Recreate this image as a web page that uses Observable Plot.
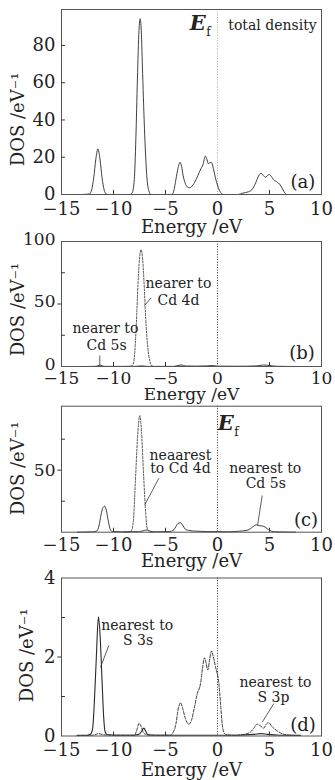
<!DOCTYPE html>
<html><head><meta charset="utf-8">
<script src="https://cdn.jsdelivr.net/npm/d3@7"></script>
<script src="https://cdn.jsdelivr.net/npm/@observablehq/plot@0.6"></script>
<style>
body{margin:0;background:#fff;overflow:hidden}
#chart svg{display:block}
</style>
</head><body><div id="chart"></div>
<script>
// ---------- data (energy eV, DOS) ----------
const xTicks = [-15, -10, -5, 0, 5, 10];

const totalDensity = [[-13,0],[-12.3,0.3],[-12.1,2.5],[-11.9,9],[-11.7,19],[-11.5,24.5],[-11.3,19],[-11.1,9],[-10.9,2.5],[-10.7,0.3],[-10.5,0],
 [-8.4,0],[-8.2,1],[-8.0,8],[-7.85,30],[-7.7,62],[-7.55,88],[-7.44,94.3],[-7.33,88],[-7.2,65],[-7.0,32],[-6.8,10],[-6.6,2],[-6.4,0],
 [-4.4,0],[-4.2,2],[-4.0,8],[-3.8,14],[-3.6,17.3],[-3.45,15],[-3.3,10],[-3.1,6],[-2.9,4],[-2.7,3.6],[-2.5,4.2],[-2.2,6.5],[-1.9,10],[-1.6,13.8],[-1.4,16],[-1.17,20.6],[-1.0,18.5],[-0.88,16.5],[-0.7,17.2],[-0.55,17],[-0.4,14],[-0.2,9],[0,5],[0.2,2],[0.4,0.4],[0.55,0],
 [2.0,0],[2.4,0.7],[3.0,1.5],[3.3,2.5],[3.55,4.8],[3.8,8],[4.0,10.5],[4.2,11.4],[4.4,10.2],[4.62,9.3],[4.8,10.2],[5.0,10.7],[5.2,9.5],[5.45,7.5],[5.66,7],[5.85,6],[6.0,5.5],[6.2,3.5],[6.4,1.5],[6.65,0],[7,0]];

const cd4dNearer = [[-9,0],[-8.3,0.3],[-8.1,2],[-7.95,12],[-7.8,35],[-7.65,65],[-7.5,86],[-7.35,93.4],[-7.2,86],[-7.05,65],[-6.9,38],[-6.7,15],[-6.5,4],[-6.3,0.5],[-6.1,0]];
const cd5sNearer = [[-13.5,0],[-11.8,0.1],[-11.5,0.6],[-11.3,1.2],[-11.1,0.6],[-10.8,0.1],[-8,0.1],[-7.3,0.5],[-6.8,0.1],[-4.2,0.1],[-3.7,1],[-3.4,1.2],[-3.1,0.4],[-2,0.3],[-1,0.5],[-0.5,0.8],[0,0.3],[2,0.2],[3.8,0.5],[4.4,1.2],[5,0.8],[5.6,0.2],[8,0]];

const cd4dNearest = [[-9,0],[-8.6,0.2],[-8.3,1],[-8.1,8],[-7.9,40],[-7.7,75],[-7.47,94],[-7.3,80],[-7.1,45],[-6.9,15],[-6.76,3],[-6.5,0.3],[-6.2,0]];
const cd5sNearest = [[-13.5,0],[-12,0.3],[-11.6,1],[-11.4,5],[-11.2,14],[-11.0,20],[-10.84,21],[-10.7,18],[-10.5,9],[-10.3,2],[-10.1,0.5],[-9,0.3],[-7.5,0.5],[-7.0,1.5],[-6.76,1.8],[-6.5,0.8],[-6,0.3],[-4.6,0.5],[-4.2,2],[-4.0,4.5],[-3.8,7],[-3.56,7.6],[-3.3,5],[-3.1,2.5],[-2.8,1.5],[-2,0.8],[-1,0.5],[0,0.5],[1,0.3],[2,0.8],[2.85,1.5],[3.2,3],[3.5,5],[3.75,6],[4.0,5.3],[4.3,5],[4.6,4],[4.9,2],[5.2,0.8],[5.5,0.3],[6,0.2],[7.5,0]];

const s3sNearest = [[-13.5,0.02],[-12.5,0.02],[-12.2,0.05],[-12.0,0.2],[-11.85,0.8],[-11.65,2.0],[-11.45,3.02],[-11.3,2.6],[-11.1,1.4],[-10.95,0.5],[-10.8,0.1],[-10.6,0.03],[-10,0.02],[-8,0.02],[-7.5,0.05],[-7.3,0.12],[-7.08,0.2],[-6.9,0.12],[-6.7,0.03],[-6,0.02],[-4,0.02],[-2,0.02],[0,0.02],[2,0.02],[3.5,0.04],[4.2,0.06],[4.8,0.04],[6,0.02],[8,0.02]];
const s3pNearest = [[-13.5,0.01],[-12,0.02],[-11.4,0.06],[-11,0.03],[-8,0.02],[-7.9,0.05],[-7.7,0.2],[-7.55,0.32],[-7.35,0.25],[-7.15,0.1],[-6.9,0.04],[-6.5,0.02],[-4.5,0.02],[-4.3,0.08],[-4.0,0.3],[-3.8,0.65],[-3.56,0.84],[-3.35,0.7],[-3.1,0.45],[-2.76,0.3],[-2.5,0.4],[-2.2,0.75],[-1.95,1.07],[-1.63,1.33],[-1.45,1.7],[-1.25,1.98],[-1.1,1.85],[-0.93,1.67],[-0.75,1.95],[-0.58,2.15],[-0.4,2.0],[-0.19,1.75],[0.13,1.33],[0.3,0.8],[0.45,0.3],[0.6,0.1],[0.77,0.04],[1.5,0.02],[2.5,0.04],[3.17,0.1],[3.5,0.2],[3.8,0.3],[4.1,0.26],[4.45,0.2],[4.7,0.3],[4.93,0.34],[5.2,0.25],[5.74,0.13],[6.2,0.06],[6.7,0.03],[8,0.01]];

// annotation texts [x, y, text]
const notesA = [[5.29, 90.5, "total density"]];
const notesB = [[-3.75, 66.4, "nearer to"], [-3.75, 52.8, "Cd 4d"], [-10.77, 30.1, "nearer to"], [-10.67, 16.8, "Cd 5s"]];
const notesC = [[-3.56, 61.9, "neaarest"], [-3.56, 51.1, "to Cd 4d"], [4.59, 51.4, "nearest to"], [4.64, 39.3, "Cd 5s"]];
const notesD = [[-7.72, 2.80, "nearest to"], [-7.64, 2.42, "S 3s"], [5.58, 1.36, "nearest to"], [5.38, 0.98, "S 3p"]];
// leader lines [x1, y1, x2, y2]
const leadersB = [[-7.02, 48.8, -6.38, 54.9], [-11.32, 8.8, -11.32, 0.8]];
const leadersC = [[-6.99, 22.1, -5.64, 43.5], [3.85, 5.4, 4.3, 29.6]];
const leadersD = [[-11.25, 1.74, -10.45, 2.29], [4.30, 0.35, 5.41, 0.82]];

// ---------- drawing ----------
const FONT = "DejaVu Serif";
const INK = "#222";
const fmt = d => d < 0 ? "\u2212" + Math.abs(d) : String(d);

function makePanel(o) {
  const marks = [
    Plot.ruleX([0], {stroke: o.efStroke, strokeWidth: 1, strokeDasharray: "1,1.6"}),
    ...o.series.map(s => Plot.line(s.data, {x: d => d[0], y: d => d[1], curve: "monotone-x",
      stroke: "#2a2a2a", strokeWidth: s.width ?? 0.9, strokeDasharray: s.dash})),
    Plot.frame({stroke: "#555", strokeWidth: 1}),
    Plot.ruleX(o.xInner, {x: d => d, y1: 0, y2: o.tickY, stroke: "#333"}),
    Plot.ruleY(o.yInner, {y: d => d, x1: -15, x2: -14.62, stroke: "#333"}),
    Plot.ruleY(o.yOuter, {y: d => d, x1: -15.35, x2: -15, stroke: "#333"}),
    Plot.text(xTicks, {x: d => d, y: 0, dy: o.xLabelDy, text: fmt, fontSize: o.xFont ?? 18, fill: INK, lineAnchor: "middle", textAnchor: "middle"}),
    Plot.text(o.yLabeled, {x: -15, y: d => d, dx: -6, dy: o.yLabelDy ?? 0, text: fmt, fontSize: o.yFont, fill: INK, lineAnchor: "middle", textAnchor: "end"}),
    Plot.text(["Energy /eV"], {frameAnchor: "bottom", dy: o.energyDy, text: d => d, fontSize: o.eFont ?? 18, fill: INK, lineAnchor: "middle"}),
    Plot.text(["DOS /eV\u207B\u00B9"], {x: -15, y: o.ylabelY, dx: o.ylabelDx, rotate: -90, text: d => d, fontSize: 18, fill: INK, lineAnchor: "middle", textAnchor: "middle"}),
    Plot.text(o.notes, {x: d => d[0], y: d => d[1], text: d => d[2], fontSize: 14, fill: INK, lineAnchor: "middle", textAnchor: "middle"}),
    Plot.link(o.leaders, {x1: d => d[0], y1: d => d[1], x2: d => d[2], y2: d => d[3], stroke: "#333", strokeWidth: 0.8}),
    Plot.text([o.tag], {x: o.tagPos[0], y: o.tagPos[1], text: d => d, fontSize: 18, fill: INK, lineAnchor: "middle", textAnchor: "middle"})
  ];
  if (o.ef) {
    marks.push(Plot.text(["E"], {x: o.ef[0], y: o.ef[1], text: d => d, fontSize: 21, fontStyle: "italic", fontWeight: 600, fill: INK, lineAnchor: "middle", textAnchor: "middle"}));
    marks.push(Plot.text(["f"], {x: o.ef[2], y: o.ef[3], text: d => d, fontSize: 12, fill: INK, lineAnchor: "middle", textAnchor: "middle"}));
  }
  return Plot.plot({
    width: 335, height: o.height,
    marginLeft: 61, marginRight: 14, marginTop: o.mt, marginBottom: o.mb,
    x: {domain: [-15, 10], axis: null},
    y: {domain: [0, o.ymax], axis: null},
    style: {fontFamily: FONT, background: "transparent", overflow: "visible", color: INK},
    marks
  });
}

const chart = document.getElementById("chart");
chart.append(makePanel({
  height: 237, mt: 9, mb: 43, ymax: 99.3,
  series: [{data: totalDensity}],
  yLabeled: [0, 20, 40, 60, 80], yInner: [20, 40, 60, 80], yOuter: [], yFont: 18,
  xInner: [-10, -5, 5], tickY: 2.15, xLabelDy: 15, energyDy: 33,
  ylabelY: 40.3, ylabelDx: -43, efStroke: "#aaa",
  notes: notesA, leaders: [], tag: "(a)", tagPos: [8.22, 6.4],
  ef: [-1.9, 91.8, -0.87, 87]
}));
chart.append(makePanel({
  height: 163, mt: 4, mb: 34, ymax: 100,
  series: [{data: cd4dNearer, dash: "2,1.5", width: 0.8}, {data: cd5sNearer}],
  yLabeled: [0, 50, 100], yInner: [25, 75], yOuter: [50], yFont: 17, yLabelDy: -2,
  xInner: [-10, -5, 5], tickY: 3.2, xLabelDy: 12, xFont: 17, energyDy: 28, eFont: 17,
  ylabelY: 45.6, ylabelDx: -43, efStroke: "#333",
  notes: notesB, leaders: leadersB, tag: "(b)", tagPos: [8.13, 10.4]
}));
chart.append(makePanel({
  height: 170, mt: 5.7, mb: 38.3, ymax: 101.6,
  series: [{data: cd4dNearest, dash: "2,1.5", width: 0.8}, {data: cd5sNearest}],
  yLabeled: [50], yInner: [25, 75], yOuter: [50], yFont: 17,
  xInner: [-10, -5, 5], tickY: 3.2, xLabelDy: 13, energyDy: 29,
  ylabelY: 51.4, ylabelDx: -43, efStroke: "#333",
  notes: notesC, leaders: leadersC, tag: "(c)", tagPos: [8.51, 9.4],
  ef: [0.8, 88.2, 1.83, 80.4]
}));
chart.append(makePanel({
  height: 210, mt: 7.5, mb: 44.5, ymax: 4,
  series: [{data: s3pNearest, dash: "3,1.5", width: 0.9}, {data: s3sNearest, width: 1.1}],
  yLabeled: [0, 2, 4], yInner: [1, 3], yOuter: [2], yFont: 18,
  xInner: [-10, -5, 5], tickY: 0.1, xLabelDy: 14, energyDy: 34,
  ylabelY: 2.04, ylabelDx: -34, efStroke: "#333",
  notes: notesD, leaders: leadersD, tag: "(d)", tagPos: [8.22, 0.27]
}));
</script>
</body></html>
